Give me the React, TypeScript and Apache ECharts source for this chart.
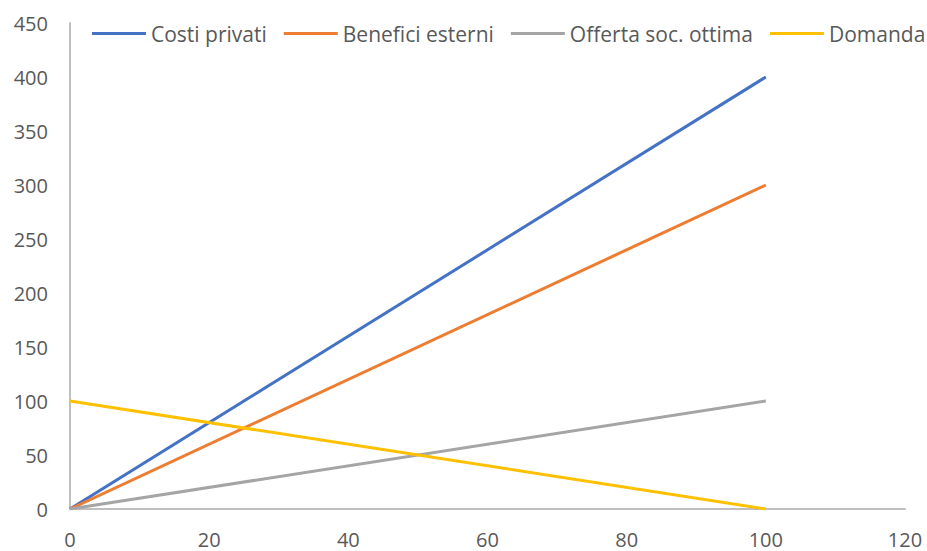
import React, { useEffect, useRef } from "react";
import * as echarts from "echarts";

const xValues = [0, 100];
const costiPrivati = [0, 400];
const beneficiEsterni = [0, 300];
const offertaSocOttima = [0, 100];
const domanda = [100, 0];
const seriesNames = ["Costi privati", "Benefici esterni", "Offerta soc. ottima", "Domanda"];
const colors = ["#4472C4", "#ED7D31", "#A5A5A5", "#FFC000"];

const pairs = (ys: number[]) => xValues.map((x, i) => [x, ys[i]]);

export default function App() {
  const ref = useRef<HTMLDivElement>(null);
  useEffect(() => {
    if (!ref.current) return;
    const chart = echarts.init(ref.current, null, { renderer: "svg" });
    const font = "Open Sans";
    const allData = [costiPrivati, beneficiEsterni, offertaSocOttima, domanda];
    chart.setOption({
      animation: false,
      color: colors,
      textStyle: { fontFamily: font },
      grid: { left: 70, right: 22, top: 23, bottom: 42, containLabel: false },
      legend: {
        top: 23,
        left: 87,
        width: 840,
        padding: [0, 5],
        itemWidth: 54,
        itemHeight: 3,
        itemGap: 17,
        icon: "rect",
        textStyle: { fontFamily: font, fontSize: 21, color: "#595959" },
        data: seriesNames,
      },
      xAxis: {
        type: "value",
        min: 0,
        max: 120,
        interval: 20,
        axisLine: { show: true, lineStyle: { color: "#BFBFBF", width: 2 } },
        axisTick: { show: false },
        splitLine: { show: false },
        axisLabel: { fontFamily: font, fontSize: 20, color: "#595959", margin: 20 },
      },
      yAxis: {
        type: "value",
        min: 0,
        max: 450,
        interval: 50,
        axisLine: { show: true, lineStyle: { color: "#BFBFBF", width: 2 } },
        axisTick: { show: false },
        splitLine: { show: false },
        axisLabel: { fontFamily: font, fontSize: 20, color: "#595959", margin: 22 },
      },
      series: seriesNames.map((name, i) => ({
        name,
        type: "line",
        data: pairs(allData[i]),
        showSymbol: false,
        symbol: "none",
        lineStyle: { width: 3, color: colors[i] },
        itemStyle: { color: colors[i] },
      })),
    });
    return () => chart.dispose();
  }, []);
  return <div ref={ref} style={{ width: 927, height: 551, position: "absolute", left: 0, top: 0 }} />;
}
